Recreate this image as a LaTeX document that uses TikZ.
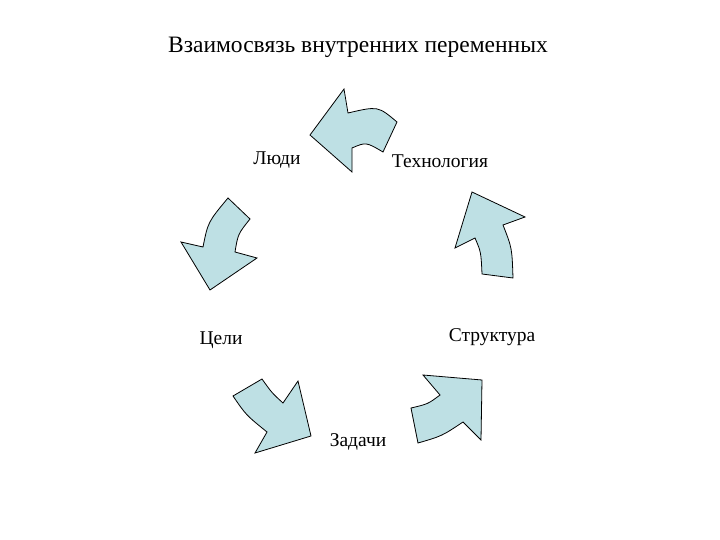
\documentclass[tikz,border=0pt]{standalone}
\usepackage{fontspec}
\setmainfont{Liberation Serif}
\definecolor{arrowfill}{RGB}{190,224,228}
\begin{document}
\begin{tikzpicture}[x=1pt,y=-1pt,
                    label node/.style={font=\rmfamily\fontsize{19.5}{22}\selectfont,inner sep=0pt},
                    cycle arrow/.style={draw=black,fill=arrowfill,line width=0.8pt,line join=miter}
                   ]
   \useasboundingbox (0,0) rectangle (720,540);

   \node[font=\rmfamily\fontsize{23.5}{26}\selectfont,inner sep=0pt] (title) at (358,47) {Взаимосвязь внутренних переменных};

   \node[label node] (ludi)  at (277,160) {Люди};
   \node[label node] (tech)  at (440,161) {Технология};
   \node[label node] (celi)  at (221,340) {Цели};
   \node[label node] (struk) at (492,337) {Структура};
   \node[label node] (zad)   at (358,442) {Задачи};

   % Люди <- Технология
   \draw[cycle arrow] (310,135) -- (344,89) -- (348,113)
     .. controls (378,106) .. (397,122) -- (383,152)
     .. controls (366,142) .. (352,148) -- (352,172) -- cycle;
   % Технология <- Структура
   \draw[cycle arrow] (472,192) -- (525,217) -- (503,225)
     .. controls (512,248) .. (513,278) -- (482,274)
     .. controls (481,252) .. (475,238) -- (455,248) -- cycle;
   % Люди -> Цели
   \draw[cycle arrow] (228,198) -- (250,219)
     .. controls (238,234) .. (235,252) -- (257,258) -- (210,290)
     -- (181,242) -- (203,247) .. controls (208,222) .. cycle;
   % Цели -> Задачи
   \draw[cycle arrow] (233,396) -- (262,379)
     .. controls (272,393) .. (283,403) -- (298,381) -- (311,436)
     -- (255,453) -- (267,432) .. controls (246,415) .. cycle;
   % Задачи -> Структура
   \draw[cycle arrow] (423,375) -- (482,380) -- (481,440) -- (463,422)
     .. controls (442,436) .. (418,443) -- (411,408)
     .. controls (428,404) .. (440,395) -- cycle;
\end{tikzpicture}
\end{document}
